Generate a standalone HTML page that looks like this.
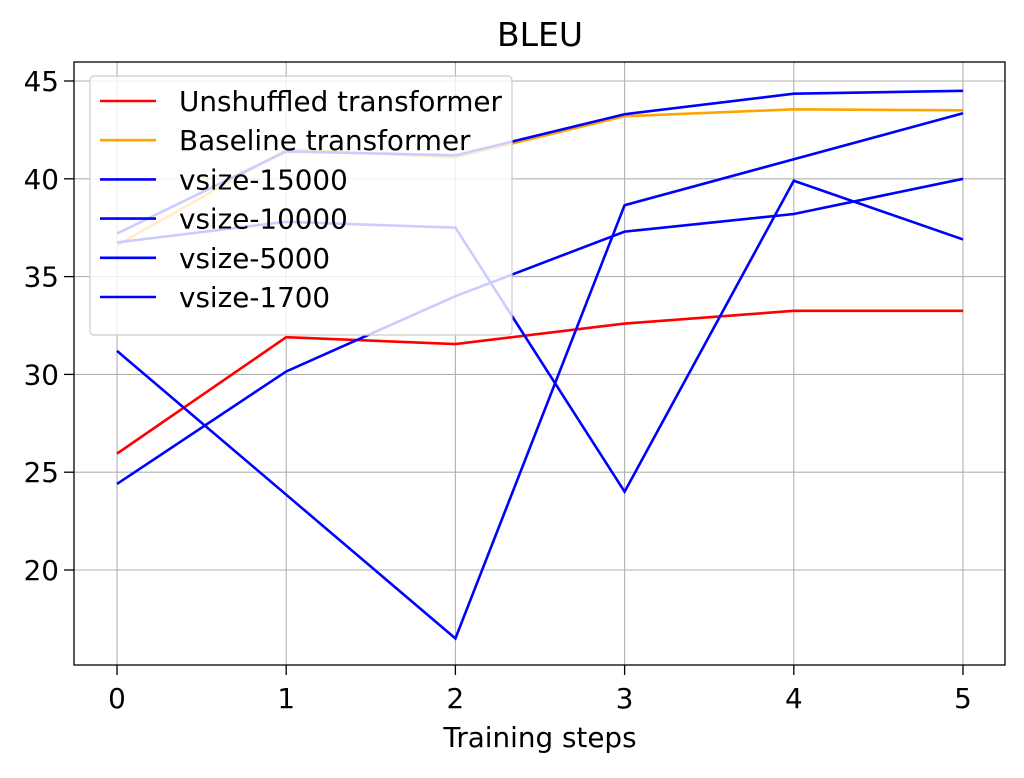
<!DOCTYPE html>
<html><head><meta charset="utf-8"><style>
body{margin:0;background:#fff;}
svg text{font-family:"DejaVu Sans","Liberation Sans",sans-serif;fill:#000;}
</style></head><body>
<svg id="chart" width="1024" height="773" xmlns="http://www.w3.org/2000/svg">
<rect width="1024" height="773" fill="#fff"/>
<g id="grid"></g>
<g id="series"></g>
<rect x="74" y="62" width="931" height="603" fill="none" stroke="#000" stroke-width="1.3"/>
<g id="ticks"></g>
<text x="540" y="46" font-size="33" text-anchor="middle">BLEU</text>
<text x="540" y="747" font-size="27.8" text-anchor="middle">Training steps</text>
<g id="legend"></g>
</svg>
<script>
const steps=[0,1,2,3,4,5];
const yTicks=[20,25,30,35,40,45];
const seriesNames=["Unshuffled transformer","Baseline transformer","vsize-15000","vsize-10000","vsize-5000","vsize-1700"];
const seriesColors=["#ff0000","#ffa500","#0000ff","#0000ff","#0000ff","#0000ff"];
const unshuffled=[25.95,31.9,31.55,32.6,33.25,33.25];
const baseline=[36.6,41.5,41.1,43.2,43.55,43.5];
const vsize15000=[37.2,41.4,41.2,43.3,44.35,44.5];
const vsize10000=[36.75,37.8,37.5,24.0,39.9,36.9];
const vsize5000=[24.4,30.15,34.0,37.3,38.2,40.0];
const vsize1700=[31.2,23.85,16.5,38.65,41.0,43.35];
const allSeries=[unshuffled,baseline,vsize15000,vsize10000,vsize5000,vsize1700];
const NS="http://www.w3.org/2000/svg";
const xS=v=>117+(963-117)*v/5;
const yS=v=>570-(v-20)*(570-81)/25;
function mk(tag,attrs,parent){const e=document.createElementNS(NS,tag);for(const k in attrs)e.setAttribute(k,attrs[k]);parent.appendChild(e);return e;}
const grid=document.getElementById('grid'),ticks=document.getElementById('ticks'),ser=document.getElementById('series'),leg=document.getElementById('legend');
steps.forEach(s=>{
 const g=mk('line',{x1:xS(s),x2:xS(s),y1:62,y2:665,stroke:'#b0b0b0','stroke-width':1.1},grid);
 
 
 const t=mk('line',{x1:xS(s),x2:xS(s),y1:665,y2:675,stroke:'#000','stroke-width':1.3},ticks);
 
 
 const l=mk('text',{x:xS(s),y:708,'font-size':27.8,'text-anchor':'middle'},ticks);l.textContent=s;
 
 
});
yTicks.forEach(v=>{
 const g=mk('line',{x1:74,x2:1005,y1:yS(v),y2:yS(v),stroke:'#b0b0b0','stroke-width':1.1},grid);
 
 
 const t=mk('line',{x1:64,x2:74,y1:yS(v),y2:yS(v),stroke:'#000','stroke-width':1.3},ticks);
 
 
 const l=mk('text',{x:59,y:yS(v)+10,'font-size':27.8,'text-anchor':'end'},ticks);l.textContent=v;
 
 
});
allSeries.forEach((d,i)=>{
 const p=mk('polyline',{points:d.map((v,j)=>xS(steps[j])+','+yS(v)).join(' '),fill:'none',stroke:seriesColors[i],'stroke-width':2.6},ser);
 
 
});
const box=mk('rect',{x:90,y:76,width:422,height:259,rx:4,fill:'#fff','fill-opacity':0.8,stroke:'#ccc','stroke-width':1.2},leg);


seriesNames.forEach((n,i)=>{
 const y=101+i*39.2;
 const ln=mk('line',{x1:100,x2:156,y1:y,y2:y,stroke:seriesColors[i],'stroke-width':2.6},leg);
 
 
 const t=mk('text',{x:179,y:y+10,'font-size':27.8},leg);t.textContent=n;
 
 
});
</script>
</body></html>
